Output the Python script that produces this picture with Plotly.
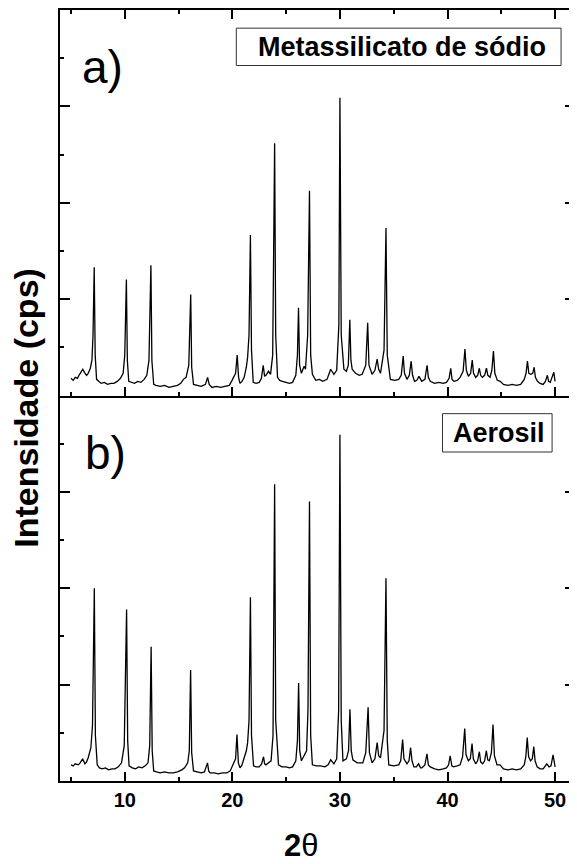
import plotly.graph_objects as go

# ---- Data (2theta in degrees, intensity in arbitrary units) ----
two_theta_a = [5.00, 5.20, 5.40, 5.60, 5.80, 6.00, 6.10, 6.25, 6.45, 6.60, 6.80, 6.95, 7.05, 7.16, 7.25, 7.38,
               7.55, 7.80, 8.10, 8.40, 8.70, 9.00, 9.30, 9.60, 9.85, 10.00, 10.15, 10.24, 10.37, 10.60, 10.90,
               11.20, 11.50, 11.80, 12.05, 12.25, 12.43, 12.52, 12.69, 12.90, 13.30, 13.70, 14.10, 14.50, 14.90,
               15.20, 15.45, 15.70, 15.95, 16.13, 16.22, 16.39, 16.70, 17.10, 17.50, 17.70, 17.85, 18.10, 18.50,
               18.90, 19.30, 19.72, 19.97, 20.30, 20.45, 20.58, 20.71, 20.90, 21.10, 21.30, 21.42, 21.55, 21.68,
               21.78, 21.94, 22.20, 22.50, 22.70, 22.87, 23.00, 23.12, 23.36, 23.55, 23.75, 23.93, 24.03, 24.20,
               24.40, 24.66, 25.00, 25.30, 25.60, 25.90, 26.05, 26.15, 26.25, 26.42, 26.67, 26.80, 27.00, 27.17,
               27.28, 27.44, 27.75, 28.10, 28.40, 28.80, 29.14, 29.44, 29.70, 29.90, 30.00, 30.12, 30.37, 30.60,
               30.78, 30.92, 31.02, 31.14, 31.45, 31.80, 32.07, 32.40, 32.58, 32.70, 32.99, 33.25, 33.46, 33.60,
               33.77, 34.10, 34.28, 34.40, 34.69, 35.10, 35.46, 35.70, 35.88, 36.00, 36.23, 36.45, 36.62, 36.75,
               36.94, 37.15, 37.35, 37.60, 37.90, 38.10, 38.22, 38.40, 38.80, 39.20, 39.60, 39.90, 40.15, 40.30,
               40.42, 40.60, 40.90, 41.17, 41.45, 41.62, 41.75, 41.94, 42.15, 42.30, 42.42, 42.62, 42.80, 42.96,
               43.08, 43.24, 43.45, 43.62, 43.75, 43.95, 44.12, 44.27, 44.40, 44.63, 44.90, 45.20, 45.60, 46.00,
               46.40, 46.80, 47.13, 47.30, 47.43, 47.56, 47.75, 47.92, 48.05, 48.17, 48.36, 48.60, 48.89, 49.10,
               49.28, 49.40, 49.55, 49.75, 49.88, 50.00]
intensity_a = [17, 15, 18, 17, 21, 25, 26, 23, 20, 22, 27, 35, 60, 127, 40, 16,
               14, 12, 13, 11, 12, 12, 14, 17, 22, 40, 115, 35, 14, 13, 12,
               14, 13, 16, 20, 35, 129, 35, 11, 10, 9, 10, 8, 9, 10,
               12, 16, 18, 30, 100, 28, 11, 10, 9, 11, 18, 11, 8, 9,
               8, 9, 10, 15, 22, 40, 18, 12, 14, 18, 28, 38, 60, 159,
               45, 13, 12, 13, 17, 30, 19, 20, 24, 21, 40, 250, 60, 18,
               15, 14, 13, 12, 13, 20, 40, 87, 30, 22, 29, 26, 60, 203,
               40, 21, 15, 16, 14, 16, 26, 21, 25, 70, 295, 60, 26, 24,
               30, 75, 35, 26, 22, 20, 21, 30, 72, 30, 21, 25, 36, 26,
               22, 45, 166, 40, 16, 15, 16, 20, 39, 22, 16, 20, 34, 20,
               14, 15, 19, 14, 16, 30, 18, 14, 12, 13, 12, 13, 17, 27,
               16, 14, 15, 18, 24, 46, 25, 19, 22, 35, 22, 18, 20, 27,
               20, 18, 20, 27, 20, 18, 25, 44, 22, 15, 14, 11, 10, 11,
               10, 11, 16, 22, 34, 22, 21, 22, 28, 18, 14, 12, 11, 14,
               20, 14, 13, 18, 23, 14]

two_theta_b = [5.00, 5.20, 5.40, 5.68, 5.85, 6.08, 6.30, 6.45, 6.60, 6.85, 7.00, 7.17, 7.27, 7.44, 7.65,
               7.90, 8.20, 8.50, 8.80, 9.10, 9.40, 9.70, 9.95, 10.17, 10.27, 10.40, 10.70, 11.00, 11.30,
               11.60, 11.90, 12.16, 12.32, 12.45, 12.55, 12.69, 12.95, 13.30, 13.70, 14.10, 14.50, 14.90,
               15.30, 15.56, 15.85, 16.00, 16.12, 16.22, 16.39, 16.70, 17.10, 17.40, 17.69, 17.80, 17.93,
               18.30, 18.70, 19.10, 19.50, 19.80, 20.03, 20.30, 20.43, 20.56, 20.71, 20.90, 21.10, 21.30,
               21.42, 21.55, 21.68, 21.78, 21.97, 22.20, 22.50, 22.72, 22.90, 23.00, 23.12, 23.36, 23.60,
               23.78, 23.93, 24.03, 24.29, 24.60, 25.00, 25.30, 25.60, 25.90, 26.05, 26.16, 26.26, 26.42,
               26.73, 26.90, 27.03, 27.17, 27.28, 27.44, 27.80, 28.20, 28.60, 28.90, 29.14, 29.44, 29.70,
               29.88, 30.00, 30.12, 30.28, 30.60, 30.80, 30.93, 31.05, 31.20, 31.60, 32.13, 32.40, 32.62,
               32.74, 32.99, 33.25, 33.46, 33.60, 33.77, 34.10, 34.28, 34.40, 34.54, 35.00, 35.46, 35.65,
               35.83, 35.95, 36.23, 36.42, 36.57, 36.70, 36.88, 37.10, 37.31, 37.50, 37.62, 37.90, 38.09,
               38.22, 38.40, 38.80, 39.20, 39.60, 39.90, 40.10, 40.25, 40.40, 40.56, 40.90, 41.17, 41.40,
               41.60, 41.72, 41.94, 42.12, 42.28, 42.40, 42.62, 42.80, 42.96, 43.08, 43.27, 43.45, 43.61,
               43.74, 43.89, 44.08, 44.23, 44.36, 44.60, 44.88, 45.20, 45.60, 46.00, 46.40, 46.80, 47.13,
               47.28, 47.41, 47.54, 47.72, 47.88, 48.02, 48.14, 48.33, 48.60, 48.89, 49.05, 49.23, 49.44,
               49.62, 49.81, 49.92, 50.00]
intensity_b = [16, 15, 17, 16, 18, 22, 17, 19, 23, 33, 55, 191, 45, 16, 13,
               12, 13, 11, 12, 12, 14, 18, 35, 170, 40, 15, 13, 12, 14,
               13, 15, 18, 35, 133, 30, 10, 9, 8, 9, 8, 8, 9,
               11, 13, 18, 30, 110, 28, 10, 9, 8, 9, 18, 10, 8,
               8, 7, 8, 8, 10, 15, 22, 46, 18, 13, 16, 23, 30,
               38, 60, 182, 45, 15, 14, 14, 17, 24, 17, 16, 18, 20,
               45, 294, 60, 16, 14, 14, 13, 14, 20, 40, 97, 30, 20,
               26, 30, 70, 277, 45, 16, 15, 15, 14, 16, 21, 17, 22,
               70, 343, 60, 20, 22, 30, 71, 30, 21, 18, 18, 28, 73,
               28, 18, 22, 38, 25, 23, 50, 201, 40, 16, 15, 16, 20,
               41, 22, 17, 20, 33, 20, 14, 14, 17, 13, 13, 16, 27,
               16, 14, 12, 11, 12, 13, 16, 25, 15, 14, 15, 16, 24,
               52, 26, 20, 22, 37, 22, 17, 20, 29, 19, 17, 20, 30,
               21, 20, 28, 56, 25, 16, 16, 12, 11, 12, 11, 12, 16,
               24, 43, 24, 20, 22, 34, 20, 14, 12, 12, 14, 17, 14,
               15, 26, 18, 14]

x_tick_vals = [10, 20, 30, 40, 50]
x_tick_text = ["10", "20", "30", "40", "50"]
panel_labels = ["a)", "b)"]
sample_names = ["Metassilicato de sódio", "Aerosil"]
y_title = "Intensidade (cps)"
x_title = "<b>2</b>θ"

FONT = "Liberation Sans, Arial, Helvetica, sans-serif"

fig = go.Figure()
fig.add_trace(go.Scatter(x=two_theta_a, y=intensity_a, mode="lines", xaxis="x2", yaxis="y2",
                         line=dict(color="black", width=1.3), showlegend=False))
fig.add_trace(go.Scatter(x=two_theta_b, y=intensity_b, mode="lines", xaxis="x", yaxis="y",
                         line=dict(color="black", width=1.3), showlegend=False))

X_RANGE = [3.98, 51.85]
Y_RANGE = [0, 382]

common = dict(showline=True, linecolor="black", linewidth=2, ticks="inside", tickcolor="black",
              tickwidth=2, showgrid=False, zeroline=False)
xminor = dict(dtick=5, tick0=0, ticks="inside", ticklen=4, tickwidth=2, tickcolor="black", showgrid=False)
yminor = dict(dtick=47.75, tick0=0, ticks="inside", ticklen=4, tickwidth=2, tickcolor="black", showgrid=False)

# The page body adds an 8 px offset; the figure is sized so the plot area lands at
# x 60..577 and y 9..773 in the window.
fig.update_layout(
    width=569, height=856,
    margin=dict(l=52, r=0, t=1, b=83),
    paper_bgcolor="white", plot_bgcolor="white",
    xaxis=dict(domain=[0, 1], anchor="y", range=X_RANGE, tickmode="array", tickvals=x_tick_vals,
               ticktext=x_tick_text, ticklen=9, mirror=False, minor=xminor,
               tickfont=dict(family=FONT, size=20, color="black", weight="bold"), **common),
    xaxis2=dict(domain=[0, 1], anchor="y2", range=X_RANGE, matches="x", tickmode="array",
                tickvals=x_tick_vals, ticklen=9, mirror="ticks", minor=xminor, showticklabels=False, **common),
    yaxis=dict(domain=[0, 0.5], anchor="x", range=Y_RANGE, tick0=0, dtick=95.5, ticklen=10,
               mirror="ticks", minor=yminor, showticklabels=False, **common),
    yaxis2=dict(domain=[0.5, 1], anchor="x2", range=Y_RANGE, tick0=0, dtick=95.5, ticklen=10,
                mirror="ticks", minor=yminor, showticklabels=False, **common),
)

def px_x(p):
    return (p - 60) / 517.0

def px_y(p):
    return (773 - p) / 764.0

annotations = [
    dict(text=panel_labels[0], x=px_x(103), y=px_y(65), font=dict(family=FONT, size=46, color="black")),
    dict(text=panel_labels[1], x=px_x(106), y=px_y(448), font=dict(family=FONT, size=46, color="black")),
    dict(text=sample_names[0], x=px_x(403), y=px_y(46), font=dict(family=FONT, size=27, color="black", weight="bold")),
    dict(text=sample_names[1], x=px_x(501), y=px_y(428), font=dict(family=FONT, size=27, color="black", weight="bold")),
    dict(text=y_title, x=px_x(25), y=px_y(403), textangle=-90,
         font=dict(family=FONT, size=34, color="black", weight="bold")),
    dict(text=x_title, x=px_x(302), y=px_y(837), font=dict(family=FONT, size=31, color="black")),
]
for a in annotations:
    a.update(xref="paper", yref="paper", showarrow=False, xanchor="center", yanchor="middle")
fig.update_layout(annotations=annotations)

shapes = [
    dict(type="rect", xref="paper", yref="paper", x0=px_x(237), x1=px_x(563), y0=px_y(64), y1=px_y(27),
         line=dict(color="#333333", width=1), fillcolor="rgba(0,0,0,0)"),
    dict(type="rect", xref="paper", yref="paper", x0=px_x(444), x1=px_x(554), y0=px_y(447), y1=px_y(409),
         line=dict(color="#333333", width=1), fillcolor="rgba(0,0,0,0)"),
]
fig.update_layout(shapes=shapes)

fig.write_html("out.html")
